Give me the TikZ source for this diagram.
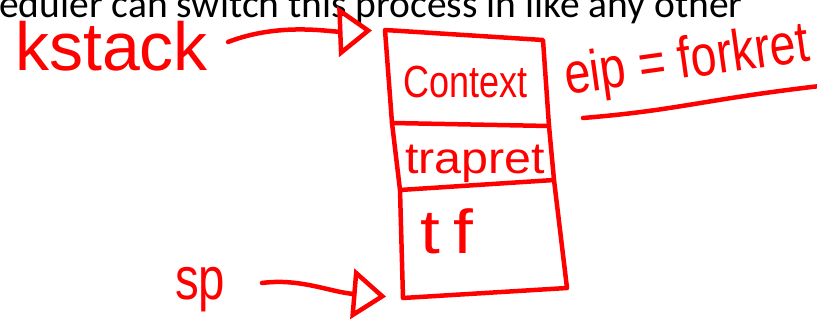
\documentclass[tikz,border=0pt]{standalone}
\usepackage{fontspec}
\setmainfont{Carlito}
\newfontfamily\hand{Liberation Sans}
\usepackage{graphicx}
\usetikzlibrary{arrows.meta}
\definecolor{ink}{RGB}{255,0,0}
\tikzset{
  pen/.style={draw=ink, line width=4.5pt, line cap=round, line join=round},
  arr/.style={pen, -{Triangle[open,length=34pt,width=50pt]}},
  hw/.style={text=ink, inner sep=0pt, anchor=base west},
}
\newcommand{\hs}[3]{\scalebox{#1}[1]{\fontsize{#2}{#2}\hand #3}}
\begin{document}
\begin{tikzpicture}[x=1pt,y=-1pt]
\useasboundingbox (0,0) rectangle (817,328);
\clip (0,0) rectangle (817,328);
% title line (cut at top)
\node[anchor=base west, inner sep=0pt, font=\fontsize{39.5}{40}\selectfont] (title) at (-1,18) {eduler can switch this process in like any other};
% box corners
\coordinate (TL) at (385,30);
\coordinate (L1) at (392,123);
\coordinate (L2) at (400,190);
\coordinate (BL) at (403,298);
\coordinate (TR) at (543,40);
\coordinate (R1) at (549,126);
\coordinate (R2) at (554,180);
\coordinate (BR) at (567,288);
\draw[pen] (TL) -- (TR) -- (R1) -- (R2) -- (BR) -- (BL) -- (L2) -- (L1) -- cycle;
\draw[pen] (L1) -- (R1);
\draw[pen] (L2) -- (R2);
% labels
\node[hw] (kstack) at (15,71) {\hs{1}{68}{kstack}};
\node[hw] (context) at (403,98) {\hs{0.8}{45}{Context}};
\node[hw] (trapret) at (405,174) {\hs{1.1}{44}{trapret}};
\node[hw] (tf) at (420,254) {\hs{1.15}{62}{t\hspace{12pt}f}};
\node[hw, rotate=8] (eip) at (567,95) {\hs{0.8}{58}{eip = forkret}};
\node[hw] (sp) at (175,300) {\hs{0.79}{60}{sp}};
% underline
\coordinate (ula) at (583,118);
\coordinate (ulb) at (820,86);
\draw[pen] (ula) .. controls (680,110) and (700,100) .. (ulb);
% arrows
\coordinate (kstail) at (228,42);
\coordinate (sptail) at (262,283);
\draw[arr, shorten >=13pt] (kstail) .. controls (280,22) and (330,32) .. (TL);
\draw[arr, shorten >=17pt] (sptail) .. controls (300,278) and (330,292) .. (BL);
\end{tikzpicture}
\end{document}
